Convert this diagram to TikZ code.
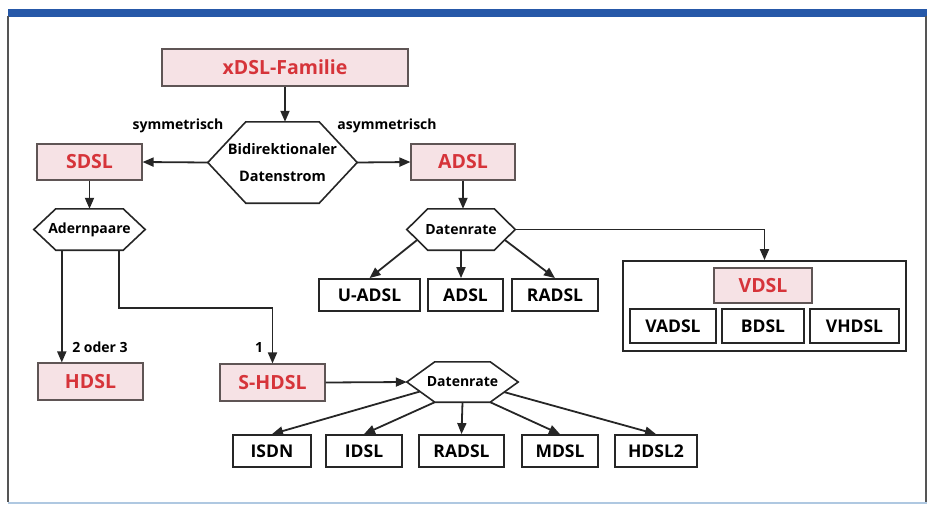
\documentclass[tikz,border=0pt]{standalone}
\usepackage{fontspec}
\setmainfont{Open Sans}
\usetikzlibrary{arrows.meta,calc}
\definecolor{pinkfill}{RGB}{246,226,229}
\definecolor{redtext}{RGB}{214,52,58}
\definecolor{barblue}{RGB}{38,88,168}
\definecolor{pinkline}{RGB}{95,85,85}
\definecolor{framegray}{RGB}{85,85,85}
\definecolor{lightblue}{RGB}{175,200,225}
\newcommand\hexshape[2]{\draw[hexline] ([xshift=#2pt]#1.north west) -- ([xshift=-#2pt]#1.north east) -- (#1.east) -- ([xshift=-#2pt]#1.south east) -- ([xshift=#2pt]#1.south west) -- (#1.west) -- cycle;}
\begin{document}
\begin{tikzpicture}[x=1pt,y=-1pt,
 every node/.style={font=\bfseries, inner sep=0pt},
 pinkbox/.style={draw=pinkline, line width=1.1pt, fill=pinkfill, text=redtext, font=\bfseries\fontsize{19.5}{21}\selectfont},
 whitebox/.style={draw=black!85, line width=1.8pt, fill=white, font=\bfseries\fontsize{17.5}{19}\selectfont},
 hexnode/.style={font=\bfseries\fontsize{14}{16}\selectfont},
 hexline/.style={draw=black!85, line width=1.6pt},
 conn/.style={line width=1.8pt, draw=black!85, -{Triangle[length=11pt,width=9pt]}},
 lbl/.style={font=\bfseries\fontsize{14}{16}\selectfont},
]
\useasboundingbox (0,0) rectangle (932,504);
% frame
\fill[barblue] (8,9) rectangle (927,16.5);
\draw[framegray, line width=1.5pt] (8,16) -- (8,502);
\draw[framegray, line width=1.5pt] (926,16) -- (926,502);
\draw[lightblue, line width=2pt] (8,503) -- (927,503);

% pink boxes
\node[pinkbox, minimum width=246pt, minimum height=37pt] (xdsl) at (285,67.5) {xDSL-Familie};
\node[pinkbox, minimum width=105pt, minimum height=36pt] (sdsl) at (89.5,162) {SDSL};
\node[pinkbox, minimum width=104pt, minimum height=36pt] (adsl) at (463,162) {ADSL};
\node[pinkbox, minimum width=105pt, minimum height=37pt] (hdsl) at (90.5,381.5) {HDSL};
\node[pinkbox, minimum width=105pt, minimum height=37pt] (shdsl) at (272.5,382.5) {S-HDSL};

% hexagons
\node[hexnode, minimum width=149pt, minimum height=81pt, align=center, font=\bfseries\fontsize{14.5}{27}\selectfont] (bid) at (282.5,162.5) {Bidirektionaler\\Datenstrom};
\hexshape{bid}{38}
\node[hexnode, minimum width=108pt, minimum height=41pt] (dr1) at (461,229.5) {Datenrate};
\hexshape{dr1}{21}
\node[hexnode, minimum width=111pt, minimum height=41pt] (adern) at (89.5,229.5) {Adernpaare};
\hexshape{adern}{22}
\node[hexnode, minimum width=111pt, minimum height=40pt] (dr2) at (462.5,382) {Datenrate};
\hexshape{dr2}{28}

% white boxes row 1
\node[whitebox, minimum width=101pt, minimum height=32pt] (uadsl) at (369.5,295) {U-ADSL};
\node[whitebox, minimum width=75pt, minimum height=32pt] (adsl2) at (465.5,295) {ADSL};
\node[whitebox, minimum width=86pt, minimum height=32pt] (radsl1) at (555,295) {RADSL};

% VDSL group
\node[draw=black!85, line width=1.8pt, minimum width=283pt, minimum height=90pt] (vbox) at (764.5,306) {};
\node[pinkbox, minimum width=98pt, minimum height=35pt] (vdsl) at (763,285.5) {VDSL};
\node[whitebox, minimum width=86pt, minimum height=34pt] (vadsl) at (673,326) {VADSL};
\node[whitebox, minimum width=82pt, minimum height=34pt] (bdsl) at (763,326) {BDSL};
\node[whitebox, minimum width=89pt, minimum height=34pt] (vhdsl) at (854.5,326) {VHDSL};

% bottom row
\node[whitebox, minimum width=78pt, minimum height=32pt] (isdn) at (272,451) {ISDN};
\node[whitebox, minimum width=76pt, minimum height=32pt] (idsl) at (364,451) {IDSL};
\node[whitebox, minimum width=85pt, minimum height=32pt] (radsl2) at (461.5,451) {RADSL};
\node[whitebox, minimum width=76pt, minimum height=32pt] (mdsl) at (560,451) {MDSL};
\node[whitebox, minimum width=82pt, minimum height=32pt] (hdsltwo) at (656,451) {HDSL2};

% labels
\node[lbl] (lsym) at (178,126) {symmetrisch};
\node[lbl] (lasym) at (387,126) {asymmetrisch};
\node[lbl] (l23) at (100,347) {2 oder 3};
\node[lbl] (l1) at (259,347) {1};

% connectors
\draw[conn] (xdsl.south) -- (xdsl.south |- bid.north);
\draw[conn] (bid.west) -- (sdsl.east);
\draw[conn] (bid.east) -- (adsl.west);
\draw[conn] (sdsl.south) -- (adern.north);
\coordinate (a1) at ([xshift=28pt]adern.south west);
\coordinate (a2) at ([xshift=-26pt]adern.south east);
\draw[conn] (a1) -- (a1 |- hdsl.north);
\draw[conn] (a2) -- ++(0,58) -| (shdsl.north);

\draw[conn] (adsl.south) -- (adsl.south |- dr1.north);
\coordinate (d1l) at ($(dr1.west)!0.5!([xshift=21pt]dr1.south west)$);
\coordinate (d1r) at ($(dr1.east)!0.5!([xshift=-21pt]dr1.south east)$);
\draw[conn] (d1l) -- (uadsl.north);
\draw[conn] (dr1.south) -- (dr1.south |- adsl2.north);
\draw[conn] (d1r) -- (radsl1.north);
\draw[conn] (dr1.east) -| (vbox.north);

\draw[conn] (shdsl.east) -- (dr2.west);
\coordinate (d2l) at ($(dr2.west)!0.47!([xshift=28pt]dr2.south west)$);
\coordinate (d2r) at ($(dr2.east)!0.5!([xshift=-28pt]dr2.south east)$);
\draw[conn] (d2l) -- (isdn.north);
\draw[conn] ([xshift=28pt]dr2.south west) -- (idsl.north);
\draw[conn] (dr2.south) -- (radsl2.north);
\draw[conn] ([xshift=-28pt]dr2.south east) -- (mdsl.north);
\draw[conn] (d2r) -- (hdsltwo.north);
\end{tikzpicture}
\end{document}
